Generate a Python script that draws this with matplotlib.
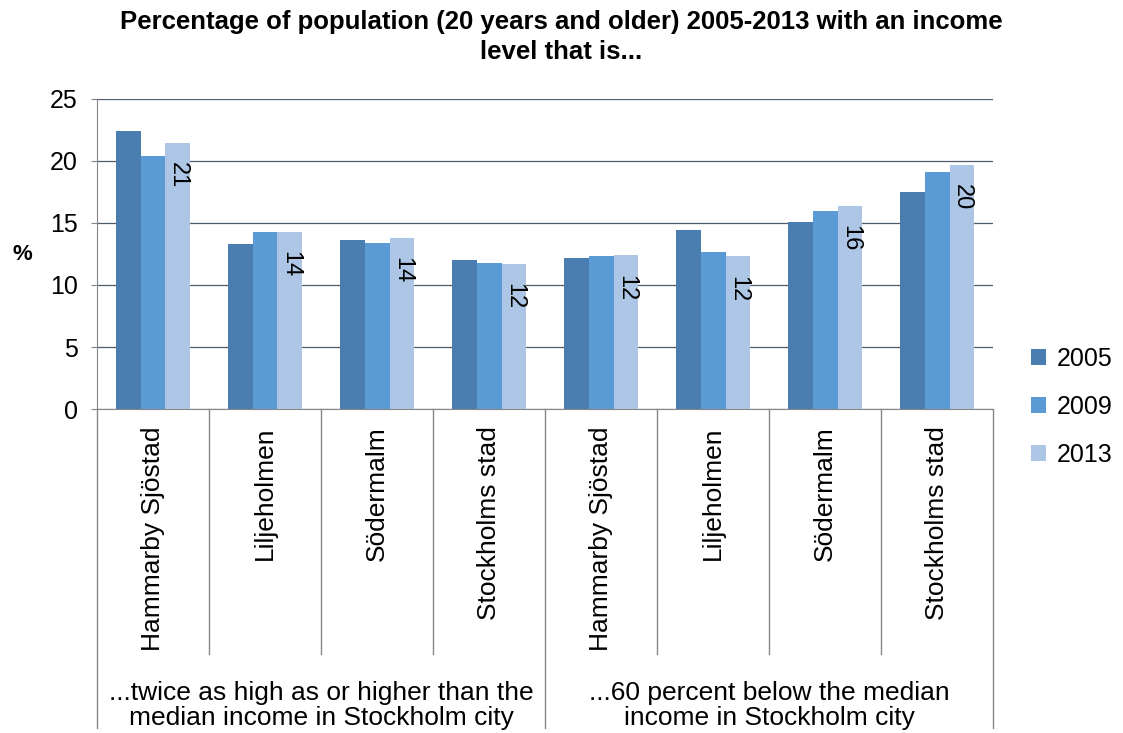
import numpy as np
import matplotlib.pyplot as plt

plt.rcParams['font.family'] = ['Liberation Sans', 'DejaVu Sans']

districts = ['Hammarby Sjöstad', 'Liljeholmen', 'Södermalm', 'Stockholms stad',
             'Hammarby Sjöstad', 'Liljeholmen', 'Södermalm', 'Stockholms stad']
groups = ['...twice as high as or higher than the\nmedian income in Stockholm city',
          '...60 percent below the median\nincome in Stockholm city']
years = ['2005', '2009', '2013']
v2005 = [22.4, 13.3, 13.6, 12.0, 12.2, 14.4, 15.1, 17.5]
v2009 = [20.4, 14.3, 13.4, 11.8, 12.3, 12.7, 16.0, 19.1]
v2013 = [21.45, 14.3, 13.8, 11.7, 12.4, 12.3, 16.4, 19.7]
colors = ['#4a7eb0', '#5b9bd5', '#adc6e6']

fig = plt.figure(figsize=(11.23, 7.33), dpi=100)
ax = fig.add_axes([0.0864, 0.442, 0.798, 0.423])

x = np.arange(len(districts))
w = 0.222
for i, (vals, c, yr) in enumerate(zip([v2005, v2009, v2013], colors, years)):
    ax.bar(x + (i - 1) * w, vals, w, color=c, label=yr, zorder=3)

# etiketter på 2013-staplarna
for xi, v in zip(x, v2013):
    ax.annotate(f'{v:.0f}', (xi + w, v), xytext=(0, -14), textcoords='offset points',
                rotation=270, ha='center', va='top', fontsize=17, zorder=4)

ax.set_xlim(-0.5, len(districts) - 0.5)
ax.set_ylim(0, 25)
ax.set_yticks(range(0, 26, 5))
ax.tick_params(axis='y', labelsize=18, length=4, pad=10, color='#868686')
ax.set_xticks([])
ax.grid(axis='y', color='#4d5b6b', linewidth=0.9, zorder=0)
for s in ['top', 'right']:
    ax.spines[s].set_visible(False)
ax.spines['left'].set_color('#868686')
ax.spines['bottom'].set_color('#868686')
fig.text(0.02, 1 - 255 / 733, '%', fontsize=16, fontweight='bold', ha='center', va='center')

# kategorietiketter och avdelare
trans = ax.get_xaxis_transform()
for xi, name in zip(x, districts):
    ax.text(xi, -0.055, name, rotation=90, ha='center', va='top', fontsize=19, transform=trans)
for b in np.arange(-0.5, len(districts), 1.0):
    low = -1.03 if b in (-0.5, 3.5, 7.5) else -0.79
    ax.plot([b, b], [0, low], color='#868686', linewidth=1, transform=trans, clip_on=False)
for gi, g in enumerate(groups):
    ax.text(1.5 + gi * 4, -0.955, g, ha='center', va='center', fontsize=19,
            linespacing=1.05, transform=trans)

fig.text(0.5, 1 - 37 / 733,
         'Percentage of population (20 years and older) 2005-2013 with an income\nlevel that is...',
         fontsize=18.5, fontweight='bold', ha='center', va='center', linespacing=1.3)

fig.legend(loc='center left', bbox_to_anchor=(0.905, 0.445), frameon=False, fontsize=18,
           handlelength=0.6, handleheight=0.6, handletextpad=0.4, labelspacing=0.95,
           borderpad=0.1)

fig.savefig('out.png', dpi=100)
